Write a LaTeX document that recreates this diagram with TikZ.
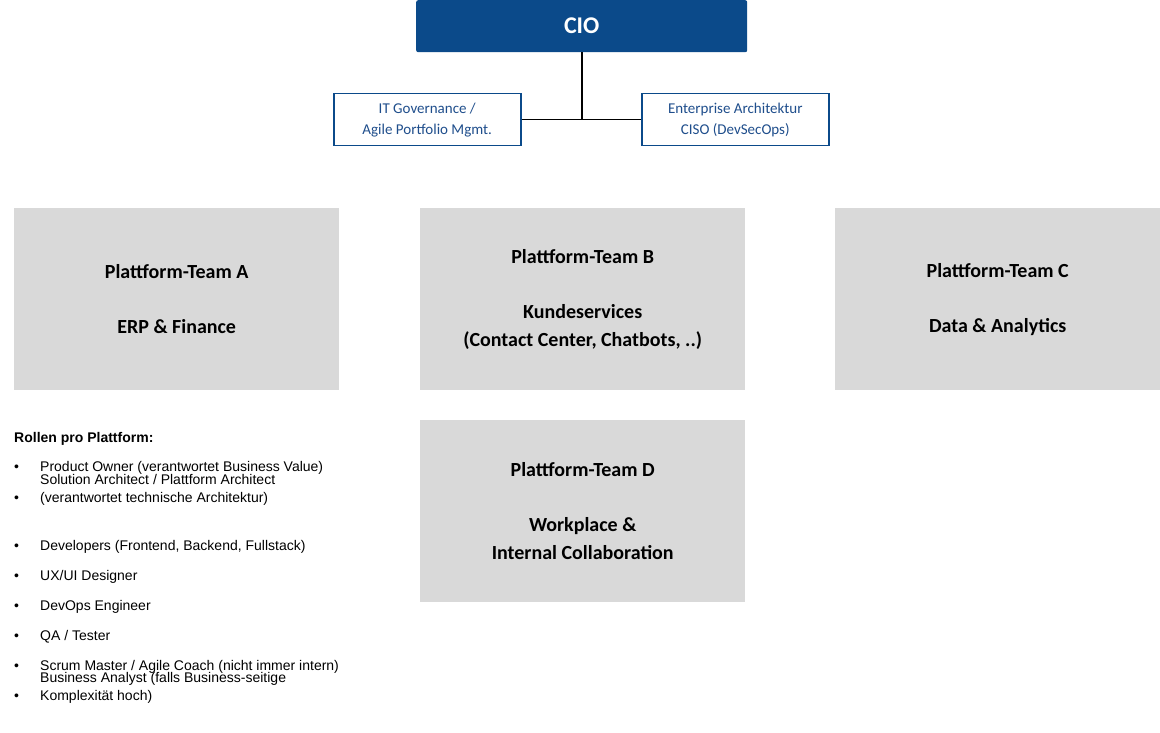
\documentclass[tikz,border=0pt]{standalone}
\usepackage{fontspec}
\setmainfont{Carlito}
\newfontfamily\arialf{Liberation Sans}
\definecolor{cioblue}{HTML}{0B4A8A}
\definecolor{boxgray}{HTML}{D9D9D9}
\definecolor{txtblue}{HTML}{1F4E8C}
\begin{document}
\begin{tikzpicture}[x=1pt,y=-1pt,
  team/.style={fill=boxgray,draw=none,minimum width=325pt,minimum height=182pt,anchor=north west,align=center,font=\fontsize{20}{28}\selectfont\bfseries},
  sub/.style={draw=cioblue,line width=1.5pt,fill=white,minimum width=187pt,minimum height=52pt,anchor=north west,align=center,text=txtblue,font=\fontsize{15}{21}\selectfont},
  li/.style={anchor=base west,font=\arialf\fontsize{14}{18}\selectfont,align=left,inner sep=0pt},
  conn/.style={line width=1.5pt,black}]
\useasboundingbox (0,0) rectangle (1160,733);
\node[fill=cioblue,rounded corners=2pt,minimum width=331pt,minimum height=52pt,anchor=north west,text=white,font=\fontsize{24}{28}\selectfont\bfseries] (cio) at (416,0) {CIO};
\node[sub] (gov) at (333,93) {IT Governance /\\Agile Portfolio Mgmt.};
\node[sub] (ea) at (641,93) {Enterprise Architektur\\CISO (DevSecOps)};
\coordinate (j) at (582,119);
\draw[conn] (cio.south -| j) -- (j);
\draw[conn] (gov.east) -- (ea.west);
\node[team] (a) at (14,208) {Plattform-Team A\\[27pt]ERP \& Finance};
\node[team] (b) at (420,208) {Plattform-Team B\\[27pt]Kundeservices\\(Contact Center, Chatbots, ..)};
\node[team] (c) at (835,208) {Plattform-Team C\\[27pt]Data \& Analytics};
\node[team] (d) at (420,420) {Plattform-Team D\\[27pt]Workplace \&\\Internal Collaboration};
\node[li,font=\arialf\fontsize{14}{18}\selectfont\bfseries] (h) at (14,442) {Rollen pro Plattform:};
\foreach \y/\t in {471/{Product Owner (verantwortet Business Value)},
  502/{Solution Architect / Plattform Architect\\(verantwortet technische Architektur)},
  550/{Developers (Frontend, Backend, Fullstack)},
  580/{UX/UI Designer},
  610/{DevOps Engineer},
  640/{QA / Tester},
  670/{Scrum Master / Agile Coach (nicht immer intern)},
  700/{Business Analyst (falls Business-seitige\\Komplexität hoch)}}{
  \node[li] at (14,\y) {•};
  \node[li] at (40,\y) {\t};
}
\end{tikzpicture}
\end{document}
